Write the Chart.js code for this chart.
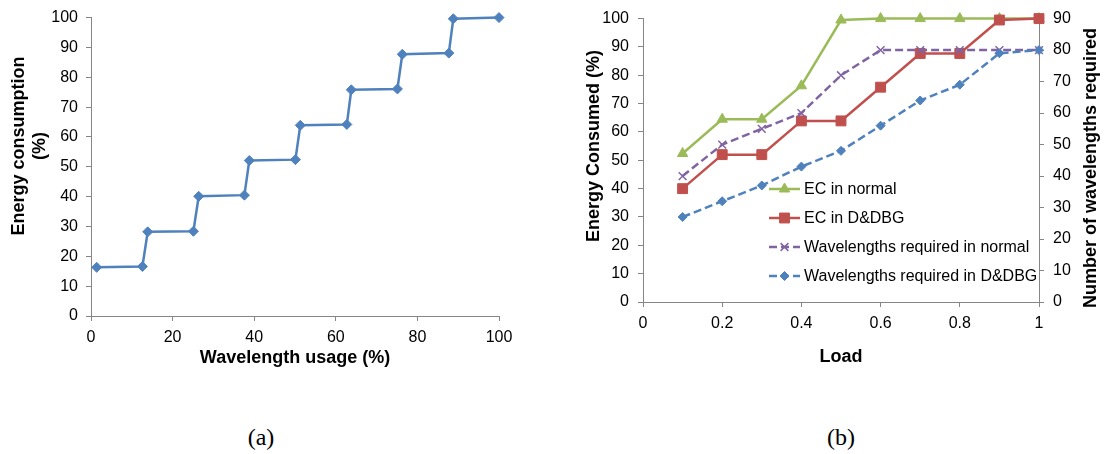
<!DOCTYPE html>
<html>
<head>
<meta charset="utf-8">
<script src="https://cdn.jsdelivr.net/npm/chart.js@4.4.1/dist/chart.umd.min.js"></script>
<style>
    body { margin: 0; background: #fff; width: 1110px; height: 454px; position: relative; overflow: hidden; }
    canvas { position: absolute; top: 0; }
    #chartA { left: 0; }
    #chartB { left: 560px; }
    .cap { position: absolute; top: 424px; line-height: 28px; font: 24px "Liberation Serif", "Times New Roman", serif; color: #000; transform: translateX(-50%); }
</style>
</head>
<body>
<canvas id="chartA" width="560" height="380"></canvas>
<canvas id="chartB" width="550" height="380"></canvas>
<div class="cap" style="left:261px">(a)</div>
<div class="cap" style="left:841px">(b)</div>
<script>
// (a) Energy consumption vs wavelength usage
const usage = [1.4, 12.6, 13.9, 25.1, 26.4, 37.6, 38.8, 50.1, 51.3, 62.7, 63.8, 75.1, 76.3, 87.7, 88.8, 100];
const consumption = [16.3, 16.6, 28.2, 28.4, 40.1, 40.5, 52.1, 52.4, 63.9, 64.2, 75.8, 76.1, 87.7, 88.1, 99.6, 100];

// (b) Energy consumed and wavelengths required vs load
const load = [0.1, 0.2, 0.3, 0.4, 0.5, 0.6, 0.7, 0.8, 0.9, 1.0];
const ecNormal = [52.4, 64.5, 64.5, 76.3, 99.5, 100, 100, 100, 100, 100];
const ecDDBG = [40, 52, 52, 63.9, 63.9, 75.8, 87.7, 87.7, 99.5, 100];
const wlNormal = [40, 50, 55, 60, 72, 80, 80, 80, 80, 80];
const wlDDBG = [27, 32, 37, 43, 48, 56, 64, 69, 79, 80];
const seriesNames = ['EC in normal', 'EC in D&DBG', 'Wavelengths required in normal', 'Wavelengths required in D&DBG'];

const FONT = '"Liberation Sans", Arial, sans-serif';
const AXIS_GREY = '#868686';
Chart.defaults.font.family = FONT;
Chart.defaults.color = '#000';
Chart.defaults.animation = false;

function pairs(xs, ys) {
    return xs.map((x, i) => ({ x: x, y: ys[i] }));
}

// rotated y titles (Excel reads them bottom-to-top on both sides)
const sideTitles = {
    id: 'sideTitles',
    afterDraw(chart, args, opts) {
        const ctx = chart.ctx;
        ctx.save();
        ctx.font = 'bold 18px ' + FONT;
        ctx.fillStyle = '#000';
        ctx.textAlign = 'center';
        ctx.textBaseline = 'middle';
        (opts.items || []).forEach(t => {
            ctx.save();
            ctx.translate(t.x, t.y);
            ctx.rotate(-Math.PI / 2);
            ctx.fillText(t.text, 0, 0);
            ctx.restore();
        });
        ctx.restore();
    }
};

// legend drawn inside the plot area
const insideLegend = {
    id: 'insideLegend',
    afterDraw(chart, args, opts) {
        if (!opts.display) return;
        const ctx = chart.ctx;
        chart.data.datasets.forEach((ds, i) => {
            const y = opts.y + i * opts.gap;
            ctx.save();
            ctx.strokeStyle = ds.borderColor;
            ctx.lineWidth = ds.borderWidth;
            ctx.setLineDash(ds.borderDash || []);
            ctx.beginPath();
            ctx.moveTo(opts.x, y);
            ctx.lineTo(opts.x + opts.lineLen, y);
            ctx.stroke();
            ctx.setLineDash([]);
            ctx.fillStyle = ds.pointBackgroundColor;
            ctx.strokeStyle = ds.pointBorderColor;
            ctx.lineWidth = ds.pointBorderWidth;
            Chart.helpers.drawPoint(ctx, {
                pointStyle: ds.pointStyle,
                radius: ds.pointRadius,
                borderWidth: ds.pointBorderWidth,
                rotation: 0
            }, opts.x + opts.lineLen / 2, y);
            ctx.font = '16px ' + FONT;
            ctx.fillStyle = '#000';
            ctx.textAlign = 'left';
            ctx.textBaseline = 'middle';
            ctx.fillText(ds.label, opts.x + opts.lineLen + 4, y + 1);
            ctx.restore();
        });
    }
};

function axis(extra) {
    return Object.assign({
        type: 'linear',
        border: { color: AXIS_GREY, width: 1 },
        grid: { drawOnChartArea: false, drawTicks: true, tickLength: 5, color: AXIS_GREY },
        ticks: { font: { size: 16 }, color: '#000', padding: 6 }
    }, extra);
}

new Chart(document.getElementById('chartA'), {
    type: 'line',
    data: {
        datasets: [{
            label: 'Energy consumption',
            data: pairs(usage, consumption),
            borderColor: '#4F81BD',
            backgroundColor: '#4F81BD',
            borderWidth: 2.5,
            pointStyle: 'rectRot',
            pointRadius: 5,
            pointBackgroundColor: '#4F81BD',
            pointBorderColor: '#4F81BD',
            pointBorderWidth: 1,
            tension: 0,
            clip: false
        }]
    },
    options: {
        responsive: false,
        layout: { padding: { top: 13, right: 61, bottom: 0, left: 0 } },
        plugins: {
            legend: { display: false },
            tooltip: { enabled: false },
            sideTitles: { items: [
                { text: 'Energy consumption', x: 19, y: 146 },
                { text: '(%)', x: 40, y: 146 }
            ] }
        },
        scales: {
            x: axis({
                min: 0, max: 100,
                ticks: { stepSize: 20, font: { size: 16 }, color: '#000', padding: 7, maxRotation: 0 },
                title: { display: true, text: 'Wavelength usage (%)', font: { size: 18, weight: 'bold' }, color: '#000', padding: { top: 0, bottom: 11 } },
                afterFit: s => { s.height = 64; }
            }),
            y: axis({
                min: 0, max: 100,
                ticks: { stepSize: 10, font: { size: 16 }, color: '#000', padding: 8 },
                afterFit: s => { s.width = 91; }
            })
        }
    },
    plugins: [sideTitles]
});

new Chart(document.getElementById('chartB'), {
    type: 'line',
    data: {
        datasets: [{
            label: seriesNames[0],
            data: pairs(load, ecNormal),
            yAxisID: 'y',
            order: 4,
            borderColor: '#9BBB59',
            borderWidth: 2.5,
            pointStyle: 'triangle',
            pointRadius: 6,
            pointBackgroundColor: '#9BBB59',
            pointBorderColor: '#9BBB59',
            pointBorderWidth: 1,
            tension: 0,
            clip: false
        }, {
            label: seriesNames[1],
            data: pairs(load, ecDDBG),
            yAxisID: 'y',
            order: 3,
            borderColor: '#C0504D',
            borderWidth: 2.5,
            pointStyle: 'rect',
            pointRadius: 7,
            pointBackgroundColor: '#C0504D',
            pointBorderColor: '#C0504D',
            pointBorderWidth: 1,
            tension: 0,
            clip: false
        }, {
            label: seriesNames[2],
            data: pairs(load, wlNormal),
            yAxisID: 'y1',
            order: 2,
            borderColor: '#8064A2',
            borderWidth: 2.5,
            borderDash: [8, 4],
            pointStyle: 'crossRot',
            pointRadius: 5.5,
            pointBackgroundColor: '#8064A2',
            pointBorderColor: '#8064A2',
            pointBorderWidth: 1.5,
            tension: 0,
            clip: false
        }, {
            label: seriesNames[3],
            data: pairs(load, wlDDBG),
            yAxisID: 'y1',
            order: 1,
            borderColor: '#4F81BD',
            borderWidth: 2.5,
            borderDash: [8, 4],
            pointStyle: 'rectRot',
            pointRadius: 4.5,
            pointBackgroundColor: '#4F81BD',
            pointBorderColor: '#4F81BD',
            pointBorderWidth: 1,
            tension: 0,
            clip: false
        }]
    },
    options: {
        responsive: false,
        layout: { padding: { top: 13, right: 0, bottom: 0, left: 0 } },
        plugins: {
            legend: { display: false },
            tooltip: { enabled: false },
            insideLegend: { display: true, x: 209, y: 189, gap: 29, lineLen: 31 },
            sideTitles: { items: [
                { text: 'Energy Consumed (%)', x: 34, y: 146 },
                { text: 'Number of wavelengths required', x: 531, y: 168 }
            ] }
        },
        scales: {
            x: axis({
                min: 0, max: 1,
                ticks: {
                    stepSize: 0.2, font: { size: 16 }, color: '#000', padding: 7, maxRotation: 0,
                    callback: v => String(+v.toFixed(2))
                },
                title: { display: true, text: 'Load', font: { size: 18, weight: 'bold' }, color: '#000', padding: { top: 0, bottom: 12 } },
                afterFit: s => { s.height = 78; }
            }),
            y: axis({
                min: 0, max: 100,
                position: 'left',
                ticks: { stepSize: 10, font: { size: 16 }, color: '#000', padding: 9 },
                afterFit: s => { s.width = 83; }
            }),
            y1: axis({
                min: 0, max: 90,
                position: 'right',
                ticks: { stepSize: 10, font: { size: 16 }, color: '#000', padding: 9 },
                afterFit: s => { s.width = 71; }
            })
        }
    },
    plugins: [sideTitles, insideLegend]
});
</script>
</body>
</html>
